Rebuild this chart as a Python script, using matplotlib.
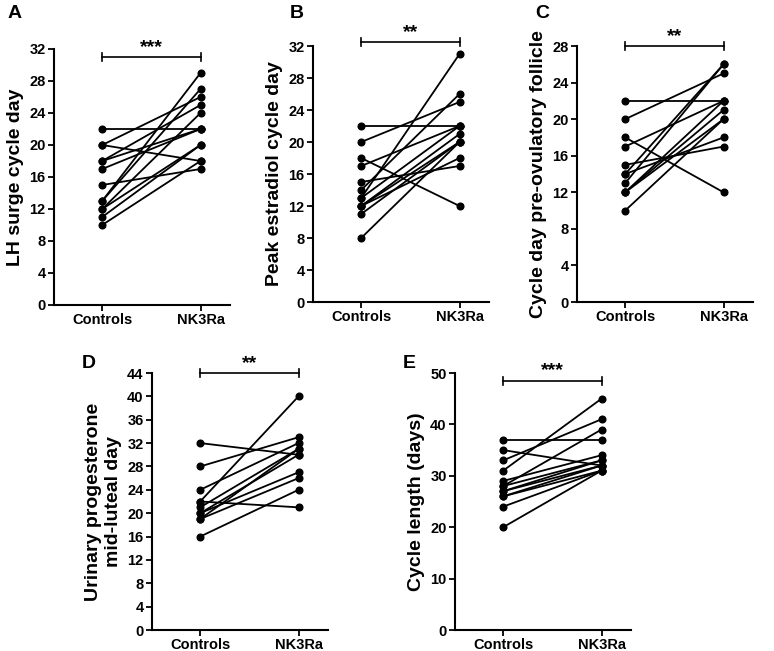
import matplotlib
matplotlib.use("Agg")
import matplotlib.pyplot as plt

plt.rcParams['font.family'] = ['Liberation Sans', 'DejaVu Sans']
plt.rcParams['font.weight'] = 'bold'

groups = ["Controls", "NK3Ra"]

# Panel A: LH surge cycle day
a_ctrl = [22, 20, 20, 18, 18, 17, 15, 13, 13, 12, 12, 11, 10]
a_nk   = [22, 26, 18, 25, 22, 22, 17, 29, 27, 24, 20, 20, 18]
# Panel B: Peak estradiol cycle day
b_ctrl = [22, 20, 18, 17, 15, 14, 13, 13, 12, 12, 12, 11, 8]
b_nk   = [22, 25, 12, 22, 17, 26, 31, 22, 21, 20, 18, 20, 20]
# Panel C: Cycle day pre-ovulatory follicle
c_ctrl = [22, 20, 18, 17, 15, 14, 14, 13, 12, 12, 12, 10]
c_nk   = [22, 25, 12, 22, 17, 26, 18, 26, 22, 21, 20, 20]
# Panel D: Urinary progesterone mid-luteal day
d_ctrl = [32, 28, 24, 22, 22, 21, 20, 20, 19, 19, 16]
d_nk   = [30, 33, 32, 40, 21, 31, 30, 27, 26, 31, 24]
# Panel E: Cycle length (days)
e_ctrl = [37, 35, 33, 31, 29, 28, 28, 27, 27, 26, 26, 24, 20]
e_nk   = [37, 32, 41, 45, 34, 39, 33, 33, 32, 32, 31, 31, 31]

panels = [
    dict(letter="A", ctrl=a_ctrl, nk=a_nk, ylabel="LH surge cycle day",
         ymax=32, ystep=4, stars="***", bar=31, rect=(54, 49, 176, 256), lab=(8, 5)),
    dict(letter="B", ctrl=b_ctrl, nk=b_nk, ylabel="Peak estradiol cycle day",
         ymax=32, ystep=4, stars="**", bar=32.5, rect=(313, 46, 176, 256), lab=(290, 5)),
    dict(letter="C", ctrl=c_ctrl, nk=c_nk, ylabel="Cycle day pre-ovulatory follicle",
         ymax=28, ystep=4, stars="**", bar=28, rect=(577, 46, 176, 256), lab=(535, 5)),
    dict(letter="D", ctrl=d_ctrl, nk=d_nk, ylabel="Urinary progesterone\nmid-luteal day",
         ymax=44, ystep=4, stars="**", bar=44, rect=(152, 373, 176, 257), lab=(82, 355)),
    dict(letter="E", ctrl=e_ctrl, nk=e_nk, ylabel="Cycle length (days)",
         ymax=50, ystep=10, stars="***", bar=48.5, rect=(455, 373, 176, 257), lab=(403, 355)),
]

W, H = 774, 651
fig = plt.figure(figsize=(W / 100, H / 100), dpi=100)

for p in panels:
    l, t, w, h = p["rect"]
    ax = fig.add_axes([l / W, 1 - (t + h) / H, w / W, h / H])
    for c, n in zip(p["ctrl"], p["nk"]):
        ax.plot([0, 1], [c, n], color="black", lw=1.3, marker="o", ms=4.8,
                clip_on=False, zorder=3)
    ax.set_xlim(-0.49, 1.30)
    ax.set_ylim(0, p["ymax"])
    ax.set_yticks(range(0, p["ymax"] + 1, p["ystep"]))
    ax.set_xticks([0, 1])
    ax.set_xticklabels(groups, fontsize=10.5, fontweight="bold")
    for lbl in ax.get_yticklabels():
        lbl.set_fontsize(10.5)
        lbl.set_fontweight("bold")
    for s in ["top", "right"]:
        ax.spines[s].set_visible(False)
    for s in ["left", "bottom"]:
        ax.spines[s].set_linewidth(1.5)
    ax.tick_params(axis="both", direction="out", length=4, width=1.3, pad=2)
    ax.set_ylabel(p["ylabel"], fontsize=14, fontweight="bold", labelpad=4)
    # significance bracket
    ax.plot([0, 1], [p["bar"], p["bar"]], color="black", lw=1.2, clip_on=False)
    d = p["ymax"] * 0.015
    for xx in (0, 1):
        ax.plot([xx, xx], [p["bar"] - d, p["bar"] + d], color="black", lw=1.2, clip_on=False)
    ax.annotate(p["stars"], xy=(0.5, p["bar"]), xytext=(0, 1), textcoords="offset points",
                ha="center", va="bottom", fontsize=14, fontweight="bold", annotation_clip=False)
    fig.text(p["lab"][0] / W, 1 - p["lab"][1] / H, p["letter"], fontsize=14,
             fontweight="bold", ha="left", va="top")

fig.savefig("out.png", dpi=100)
